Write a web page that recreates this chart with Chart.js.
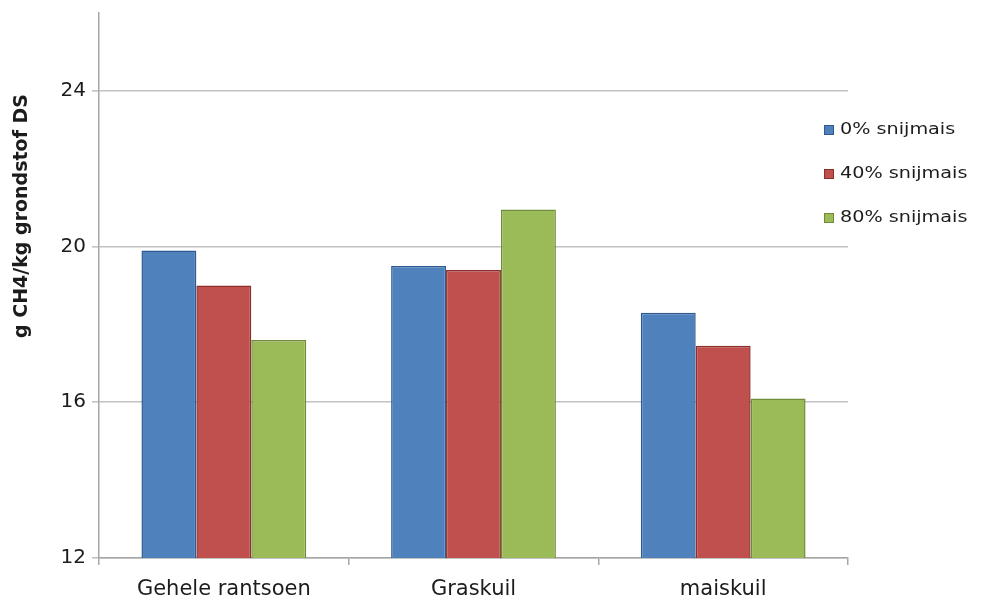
<!DOCTYPE html>
<html>
<head>
<meta charset="utf-8">
<script src="https://cdn.jsdelivr.net/npm/chart.js@4/dist/chart.umd.min.js"></script>
<style>
  html, body { margin: 0; padding: 0; background: #ffffff; }
  #wrap { width: 982px; height: 603px; position: relative; }
</style>
</head>
<body>
<div id="wrap"><canvas id="c" width="982" height="603"></canvas></div>
<script>
// Methane output per kg dry matter, per ration component and maize-silage share
const categories = ['Gehele rantsoen', 'Graskuil', 'maiskuil'];
const seriesNames = ['0% snijmais', '40% snijmais', '80% snijmais'];
const values0 = [19.9, 19.5, 18.3];
const values40 = [19.0, 19.4, 17.45];
const values80 = [17.6, 20.95, 16.1];
const yTicks = [12, 16, 20, 24];
const yTitle = 'g CH4/kg grondstof DS';

const fills = ['#4f81bd', '#c0504d', '#9bbb59'];
const edges = ['#2f5a8f', '#8c2f2c', '#6f8c3a'];
const FONT = '"DejaVu Sans", "Open Sans", sans-serif';
const INK = '#1c1c1c';

// Legend and rotated axis title drawn at fixed spots beside the plot
const sidePieces = {
  id: 'sidePieces',
  afterDraw(chart) {
    const ctx = chart.ctx;
    ctx.save();
    const rows = [130, 174, 218];
    chart.data.datasets.forEach((ds, i) => {
      const y = rows[i];
      ctx.fillStyle = ds.backgroundColor;
      ctx.fillRect(824, y - 5, 10, 10);
      ctx.strokeStyle = ds.borderColor;
      ctx.lineWidth = 1;
      ctx.strokeRect(824.5, y - 4.5, 9, 9);
      ctx.save();
      ctx.translate(840, y);
      ctx.scale(1.2, 1);
      ctx.fillStyle = INK;
      ctx.font = '16px ' + FONT;
      ctx.textBaseline = 'middle';
      ctx.textAlign = 'left';
      ctx.fillText(ds.label, 0, 0);
      ctx.restore();
    });
    ctx.translate(22, 216);
    ctx.rotate(-Math.PI / 2);
    ctx.font = 'bold 19px ' + FONT;
    ctx.fillStyle = INK;
    ctx.textAlign = 'center';
    ctx.textBaseline = 'middle';
    ctx.fillText(yTitle, 0, 0);
    ctx.restore();
  }
};

const seriesValues = [values0, values40, values80];

new Chart(document.getElementById('c'), {
  type: 'bar',
  data: {
    labels: categories,
    datasets: seriesNames.map((name, i) => ({
      label: name,
      data: seriesValues[i],
      backgroundColor: fills[i],
      borderColor: edges[i],
      borderWidth: 1.5,
      borderSkipped: 'start',
      categoryPercentage: 0.66,
      barPercentage: 1.0
    }))
  },
  options: {
    responsive: false,
    animation: false,
    devicePixelRatio: 1,
    layout: { padding: { left: 0, right: 134, top: 13, bottom: 0 } },
    plugins: {
      legend: { display: false },
      tooltip: { enabled: false }
    },
    scales: {
      x: {
        grid: {
          offset: true,
          drawOnChartArea: false,
          drawTicks: true,
          tickLength: 7,
          color: '#a6a6a6',
          lineWidth: 1.5
        },
        border: { color: '#a6a6a6', width: 1.5 },
        ticks: {
          color: INK,
          font: { family: FONT, size: 21 },
          padding: 12
        },
        afterFit(scale) {
          scale.height = 45;
          scale.paddingLeft = 0;
          scale.paddingRight = 0;
        }
      },
      y: {
        min: 12,
        max: 26,
        ticks: {
          stepSize: 4,
          color: INK,
          font: { family: FONT, size: 20 },
          padding: 6
        },
        afterBuildTicks(scale) {
          scale.ticks = yTicks.map(v => ({ value: v }));
        },
        grid: {
          color: '#c2c2c2',
          lineWidth: 1.6,
          tickLength: 7,
          drawTicks: true
        },
        border: { color: '#a6a6a6', width: 1.5 },
        afterFit(scale) {
          scale.width = 99;
          scale.paddingTop = 0;
          scale.paddingBottom = 0;
        }
      }
    }
  },
  plugins: [sidePieces]
});
</script>
</body>
</html>
